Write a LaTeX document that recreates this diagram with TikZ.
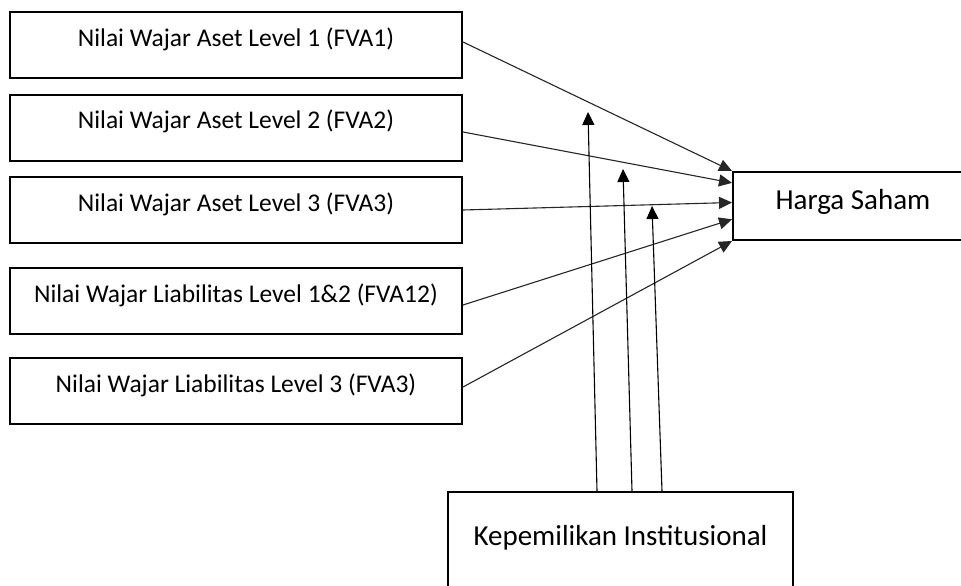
\documentclass[tikz,border=0pt]{standalone}
\usepackage{fontspec}
\setmainfont{Carlito}
\usetikzlibrary{arrows.meta,calc}
\begin{document}
\begin{tikzpicture}[x=1pt,y=-1pt,
  box/.style={draw=black, line width=2pt, fill=white, minimum width=452pt, minimum height=66pt,
    inner sep=0pt, text height=0.7em, text depth=0.43em, font=\fontsize{25.5}{29}\selectfont},
  bigbox/.style={box, font=\fontsize{29}{33}\selectfont},
  conn/.style={draw=black!85, line width=1.1pt, -{Triangle[length=13pt,width=12pt]}},
  upconn/.style={draw=black, line width=1.1pt, -{Triangle[length=13pt,width=12pt]}}]
\useasboundingbox (0,0) rectangle (961,586);
\clip (0,0) rectangle (961,586);
\fill[white] (0,0) rectangle (961,586);

\node[box] (b1) at (236,45) {Nilai Wajar Aset Level 1 (FVA1)};
\node[box] (b2) at (236,127.5) {Nilai Wajar Aset Level 2 (FVA2)};
\node[box] (b3) at (236,210) {Nilai Wajar Aset Level 3 (FVA3)};
\node[box] (b4) at (236,301) {Nilai Wajar Liabilitas Level 1\&2 (FVA12)};
\node[box] (b5) at (236,391) {Nilai Wajar Liabilitas Level 3 (FVA3)};

\node[bigbox, minimum width=240pt, minimum height=68pt, text height=0.98em, text depth=0.3em] (hs) at (853,206) {Harga Saham};
\node[bigbox, minimum width=345pt, minimum height=96pt, text height=1.05em, text depth=0pt] (kp) at (620.5,540) {Kepemilikan Institusional};

\draw[conn] ($(b1.east)+(0,-3)$) -- (hs.north west);
\draw[conn] ($(b2.east)+(0,4.5)$) -- ($(hs.north west)!0.17!(hs.south west)$);
\draw[conn] (b3.east) -- ($(hs.north west)!0.45!(hs.south west)$);
\draw[conn] ($(b4.east)+(0,4)$) -- ($(hs.north west)!0.69!(hs.south west)$);
\draw[conn] ($(b5.east)+(0,-4)$) -- (hs.south west);

\coordinate (t1) at (588,112);
\coordinate (t2) at (623,169);
\coordinate (t3) at (652,206);
\draw[upconn] ($(kp.north)+(-23.5,0)$) -- (t1);
\draw[upconn] ($(kp.north)+(11.5,0)$) -- (t2);
\draw[upconn] ($(kp.north)+(41.5,0)$) -- (t3);
\end{tikzpicture}
\end{document}
